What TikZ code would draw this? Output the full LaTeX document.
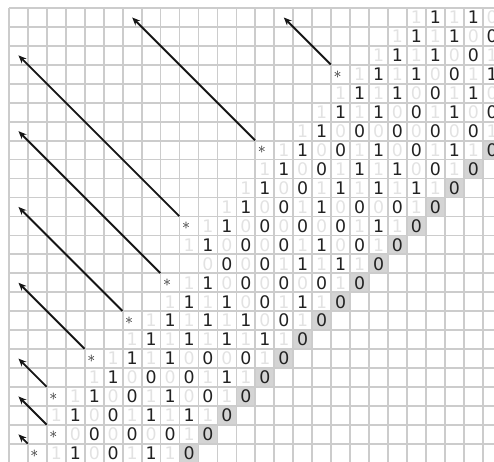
\documentclass[tikz,border=0pt]{standalone}
\usepackage{fontspec}
\setsansfont{DejaVu Sans}
\usepackage{xcolor}
\usepackage{tikz}
\usetikzlibrary{arrows.meta}
\definecolor{gridc}{RGB}{204,204,204}
\definecolor{cellc}{RGB}{212,212,212}
\definecolor{fadec}{RGB}{226,226,226}
\definecolor{inkc}{RGB}{34,34,34}
\definecolor{arrowc}{RGB}{22,22,22}

\begin{document}
\begin{tikzpicture}[x=0.5cm,y=-0.5cm,font=\sffamily,
    bit/.style={inner sep=0pt,font=\sffamily\fontsize{13}{13}\selectfont},
    astcell/.style={inner sep=0pt,minimum width=0.5cm,minimum height=0.5cm,text=inkc,font=\fontsize{12}{12}\selectfont},
    carry/.style={arrowc,line width=1.4pt,-{Stealth[length=6pt,width=5pt]}}]
  \useasboundingbox (-0.475,-0.422) rectangle (25.594,23.958);
  % ---- shaded diagonal ----
  \foreach \r in {7,...,23}{
    \fill[cellc] (32-\r,\r) rectangle (33-\r,\r+1);}
  % ---- grid ----
  \foreach \x in {0,...,25}{
    \draw[gridc,line width=1.3pt] (\x,0) -- (\x,23.958);}
  \foreach \y in {0,...,23}{
    \draw[gridc,line width=1.3pt] (0,\y) -- (25.594,\y);}
  % ---- bits (odd cells faded) ----
  \foreach \r/\c/\bits in {0/21/{1,1,1,1,0}, 1/20/{1,1,1,1,0,0}, 2/19/{1,1,1,1,0,0,1},
      3/18/{1,1,1,1,0,0,1,1}, 4/17/{1,1,1,1,0,0,1,1,0}, 5/16/{1,1,1,1,0,0,1,1,0,0},
      6/15/{1,1,0,0,0,0,0,0,0,0,1}, 7/14/{1,1,0,0,1,1,0,0,1,1,1,0},
      8/13/{1,1,0,0,1,1,1,1,0,0,1,0}, 9/12/{1,1,0,0,1,1,1,1,1,1,1,0},
      10/11/{1,1,0,0,1,1,0,0,0,0,1,0}, 11/10/{1,1,0,0,0,0,0,0,1,1,1,0},
      12/9/{1,1,0,0,0,0,1,1,0,0,1,0}, 13/10/{0,0,0,0,1,1,1,1,1,0},
      14/9/{1,1,0,0,0,0,0,0,1,0}, 15/8/{1,1,1,1,0,0,1,1,1,0},
      16/7/{1,1,1,1,1,1,0,0,1,0}, 17/6/{1,1,1,1,1,1,1,1,1,0},
      18/5/{1,1,1,1,0,0,0,0,1,0}, 19/4/{1,1,0,0,0,0,1,1,1,0},
      20/3/{1,1,0,0,1,1,0,0,1,0}, 21/2/{1,1,0,0,1,1,1,1,1,0},
      22/3/{0,0,0,0,0,0,1,0}, 23/2/{1,1,0,0,1,1,1,0}}{
    \foreach \b [count=\k from 0] in \bits {
      \pgfmathtruncatemacro\cc{\c+\k}
      \ifodd\numexpr\cc+\r\relax \def\tc{fadec}\else\def\tc{inkc}\fi
      \node[bit,text=\tc] (b-\r-\cc) at (\cc+0.5,\r+0.5) {\b};}}
  % ---- asterisks ----
  \foreach \r/\c in {3/17,7/13,11/9,14/8,16/6,18/4,20/2,22/2,23/1}{
    \node[astcell] (s-\r) at (\c+0.5,\r+0.5) {\kern-4.5pt$\ast$};}
  % ---- arrows ----
  \foreach \r/\x/\y in {3/14.5/0.5, 7/6.5/0.5, 11/0.5/2.5, 14/0.5/6.5, 16/0.5/10.5,
      18/0.5/14.5, 20/0.5/18.5, 22/0.5/20.5, 23/0.5/22.5}{
    \coordinate (t-\r) at (\x,\y);
    \draw[carry] (s-\r.north west) -- (t-\r);}
\end{tikzpicture}
\end{document}
